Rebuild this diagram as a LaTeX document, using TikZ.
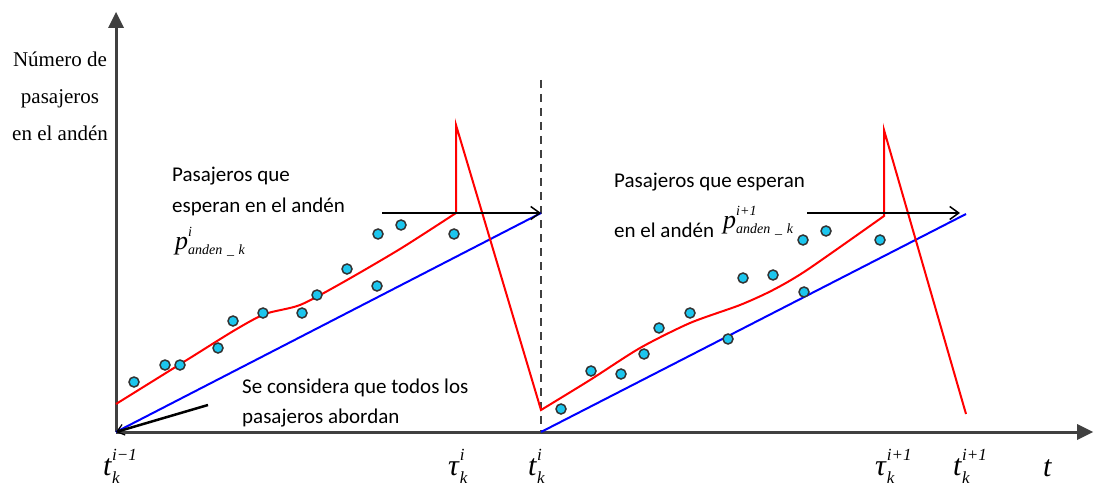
\documentclass[tikz,border=0pt]{standalone}
\usepackage{fontspec}
\setmainfont{Liberation Serif}
\newfontfamily\calfont{Carlito}
\usetikzlibrary{arrows.meta}
\definecolor{axisgray}{HTML}{404040}
\definecolor{dotfill}{HTML}{1CC6EE}
\definecolor{dotedge}{HTML}{333333}
\newcommand\axlab[3]{\textit{#1}\makebox[0pt][l]{\raisebox{15pt}{\fontsize{17}{17}\selectfont\textit{#2}}}\raisebox{-8pt}{\fontsize{17}{17}\selectfont\textit{#3}}}
\newcommand\plab[1]{\textit{p}\makebox[0pt][l]{\raisebox{13pt}{\fontsize{14}{14}\selectfont\textit{#1}}}\raisebox{-5pt}{\fontsize{14}{14}\selectfont\textit{anden\,\,\_\,\,k}}}
\begin{document}
\begin{tikzpicture}[x=1pt,y=-1pt,
  axisline/.style={line width=3pt,draw=axisgray},
  axishead/.style={fill=axisgray},
  redline/.style={line width=2pt,draw=red,line join=miter},
  blueline/.style={line width=2pt,draw=blue},
  flowarrow/.style={line width=2.5pt,-{Straight Barb[length=9pt,width=13pt,line width=1.5pt]}},
  thinarrow/.style={line width=2.5pt,-{Straight Barb[length=7pt,width=11pt,line width=1.2pt]}},
  dashline/.style={line width=2pt,draw=axisgray,dash pattern=on 8pt off 6pt},
  dot/.style={circle,fill=dotfill,draw=dotedge,line width=1.5pt,minimum size=10pt,inner sep=0pt},
  serif/.style={font=\fontsize{21}{21}\selectfont,inner sep=0pt,anchor=base},
  sans/.style={font=\calfont\fontsize{21}{21}\selectfont,inner sep=0pt,anchor=base west},
  axlabel/.style={font=\fontsize{30}{30}\selectfont,inner sep=0pt,anchor=base west},
  plabel/.style={font=\fontsize{26}{26}\selectfont,inner sep=0pt,anchor=base west}]
\useasboundingbox (0,0) rectangle (1094,489);

% key coordinates
\coordinate (O) at (116,432);
\coordinate (Ytop) at (116,27);
\coordinate (Xend) at (1078,432);
\coordinate (T1) at (541,432);
\coordinate (T2) at (966,432);
\coordinate (Dtop) at (541,80);

% axes
\draw[axisline] (O) -- (Ytop);
\fill[axishead] (108,28) -- (124,28) -- (116,12) -- cycle;
\draw[axisline] (O) -- (Xend);
\fill[axishead] (1077,424) -- (1077,440) -- (1093,432) -- cycle;

% dashed separator
\draw[dashline] (Dtop) -- (T1);

% blue reference lines
\coordinate (B1) at (541,213);
\coordinate (B2) at (966,214);
\draw[blueline] (O) -- (B1);
\draw[blueline] (T1) -- (B2);

% red curves
\draw[redline] plot[smooth,tension=0.45] coordinates {(116,404) (190,358) (235,330) (265,314) (300,305) (340,284) (400,249) (456,213)}
  -- (456,125) -- (541,410)
  -- plot[smooth,tension=0.45] coordinates {(541,410) (590,380) (640,348) (690,323) (740,305) (773,290) (807,270) (884,216)}
  -- (884,130) -- (966,414);

% black arrows
\coordinate (A1s) at (382,213);
\coordinate (A2s) at (807,213);
\coordinate (A2e) at (960,213);
\draw[flowarrow] (A1s) -- (B1);
\draw[flowarrow] (A2s) -- (A2e);
\coordinate (Cs) at (208,405);
\draw[thinarrow] (Cs) -- (O);

% data dots
\foreach \p in {(134,382),(165,365),(180,365),(218,348),(233,321),(263,313),(302,313),(317,295),(347,269),(377,286),(378,234),(401,225),(454,234),
  (561,409),(591,371),(621,374),(644,354),(659,328),(690,313),(728,339),(743,278),(773,275),(804,292),(803,240),(826,231),(880,240)}
  \node[dot] at \p {};

% y-axis label
\node[serif] (yl1) at (60,67) {Número de};
\node[serif] (yl2) at (60,104) {pasajeros};
\node[serif] (yl3) at (60,141) {en el andén};

% annotations
\node[sans] (L1) at (172,182) {Pasajeros que};
\node[sans] (L2) at (172,212) {esperan en el andén};
\node[plabel] (P1) at (175,249) {\plab{i}};
\node[sans] (R1) at (614,187) {Pasajeros que esperan};
\node[sans] (R2) at (614,237) {en el andén};
\node[plabel] (P2) at (723,228) {\plab{i+1}};
\node[sans] (S1) at (242,393) {Se considera que todos los};
\node[sans] (S2) at (242,423) {pasajeros abordan};

% axis labels
\node[axlabel] (t0) at (103,475) {\axlab{t}{i−1}{k}};
\node[axlabel] (tau1) at (448,475) {\axlab{τ}{i}{k}};
\node[axlabel] (t1) at (528,475) {\axlab{t}{i}{k}};
\node[axlabel] (tau2) at (875,475) {\axlab{τ}{i+1}{k}};
\node[axlabel] (t2) at (953,475) {\axlab{t}{i+1}{k}};
\node[axlabel] (tt) at (1043,476) {\textit{t}};
\end{tikzpicture}
\end{document}
